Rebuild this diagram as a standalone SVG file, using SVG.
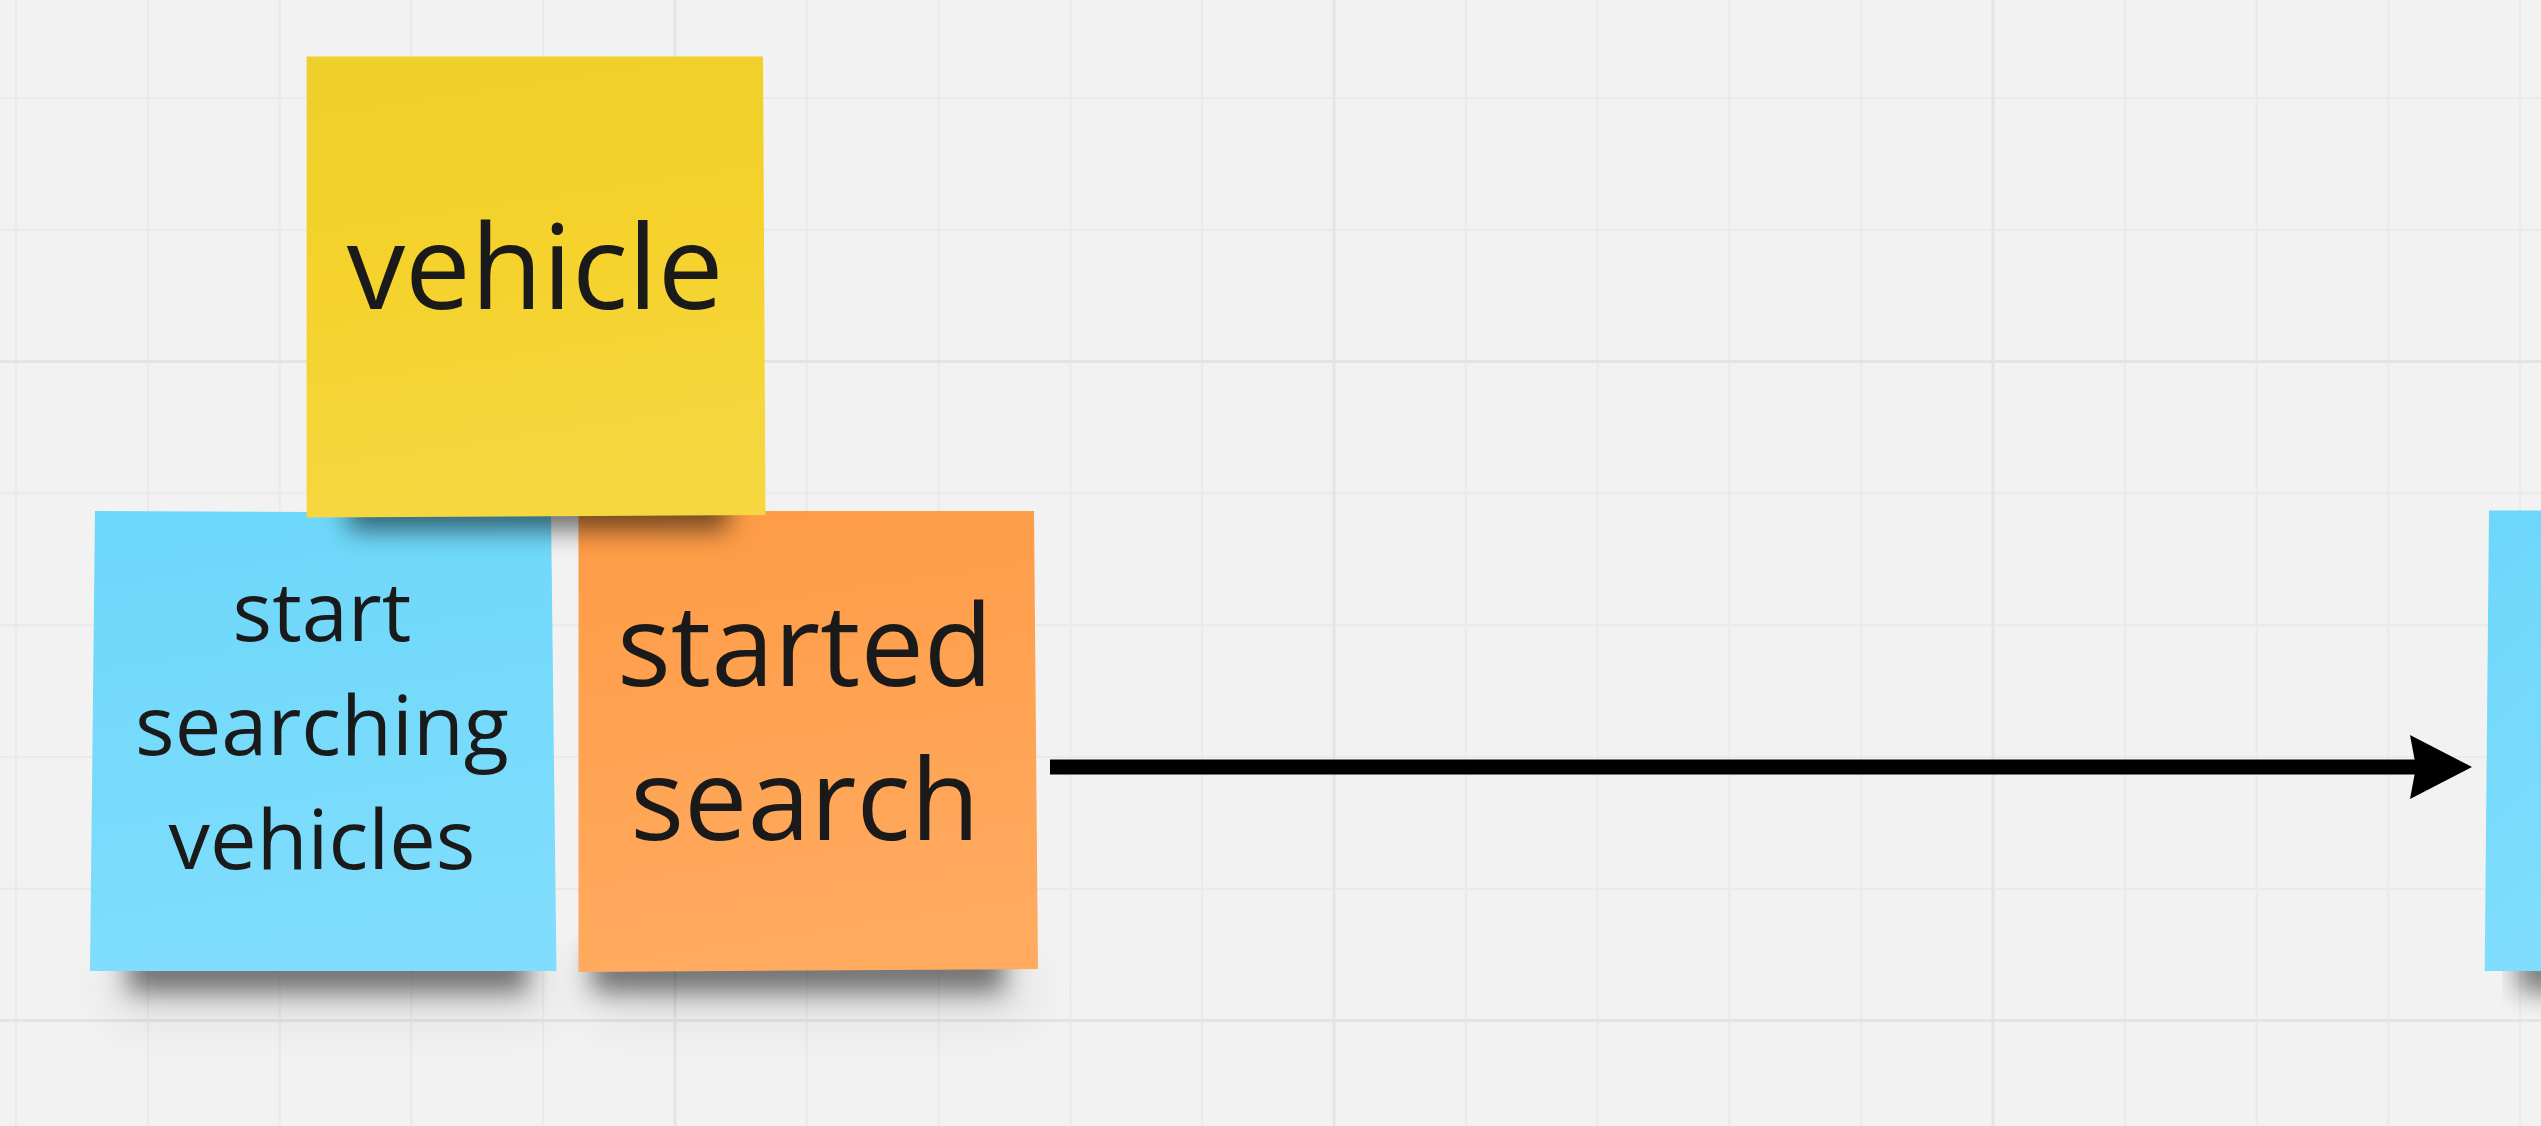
<svg xmlns="http://www.w3.org/2000/svg" width="2541" height="1126" viewBox="0 0 2541 1126">
<style>
.minor{stroke:#eaeaea;stroke-width:2.2}
.major{stroke:#e4e4e4;stroke-width:3}
.lbl{font-family:"Open Sans","Noto Sans","DejaVu Sans",sans-serif;fill:#1a1a1a;text-anchor:middle}
.shadow{fill:#000;filter:url(#blur)}
.conn{stroke:#000;stroke-width:15;fill:none}
</style>
<defs>
<filter id="blur" x="-20%" y="-100%" width="140%" height="300%"><feGaussianBlur stdDeviation="13"/></filter>
<filter id="blurWide" x="-30%" y="-200%" width="160%" height="500%"><feGaussianBlur stdDeviation="26"/></filter>
<linearGradient id="gBlue" x1="0" y1="0" x2="0.15" y2="1"><stop offset="0" stop-color="#6cd7f9"/><stop offset="1" stop-color="#80ddfd"/></linearGradient>
<linearGradient id="gOrange" x1="0" y1="0" x2="0.15" y2="1"><stop offset="0" stop-color="#fe9b45"/><stop offset="1" stop-color="#ffaa5f"/></linearGradient>
<linearGradient id="gYellow" x1="0" y1="0" x2="0.15" y2="1"><stop offset="0" stop-color="#efcf2a"/><stop offset="0.5" stop-color="#f5d22c"/><stop offset="1" stop-color="#f6d740"/></linearGradient>
<marker id="arrow" markerUnits="userSpaceOnUse" markerWidth="70" markerHeight="70" viewBox="0 0 70 70" refX="10" refY="35" orient="auto">
<path d="M0,3 L62,35 L0,67 L6,35 Z" fill="#000"/>
</marker>
</defs>
<rect x="0" y="0" width="2541" height="1126" fill="#f2f2f2"/>
<g id="grid">
<g class="minor">
<line x1="16" y1="0" x2="16" y2="1126"/><line x1="147.8" y1="0" x2="147.8" y2="1126"/><line x1="279.6" y1="0" x2="279.6" y2="1126"/><line x1="411.4" y1="0" x2="411.4" y2="1126"/><line x1="543.2" y1="0" x2="543.2" y2="1126"/>
<line x1="806.8" y1="0" x2="806.8" y2="1126"/><line x1="938.6" y1="0" x2="938.6" y2="1126"/><line x1="1070.4" y1="0" x2="1070.4" y2="1126"/><line x1="1202.2" y1="0" x2="1202.2" y2="1126"/>
<line x1="1465.8" y1="0" x2="1465.8" y2="1126"/><line x1="1597.6" y1="0" x2="1597.6" y2="1126"/><line x1="1729.4" y1="0" x2="1729.4" y2="1126"/><line x1="1861.2" y1="0" x2="1861.2" y2="1126"/>
<line x1="2124.8" y1="0" x2="2124.8" y2="1126"/><line x1="2256.6" y1="0" x2="2256.6" y2="1126"/><line x1="2388.4" y1="0" x2="2388.4" y2="1126"/><line x1="2520.2" y1="0" x2="2520.2" y2="1126"/>
<line x1="0" y1="98" x2="2541" y2="98"/><line x1="0" y1="229.8" x2="2541" y2="229.8"/><line x1="0" y1="493.4" x2="2541" y2="493.4"/><line x1="0" y1="625.2" x2="2541" y2="625.2"/><line x1="0" y1="757" x2="2541" y2="757"/><line x1="0" y1="888.8" x2="2541" y2="888.8"/>
</g>
<g class="major">
<line x1="675" y1="0" x2="675" y2="1126"/><line x1="1334" y1="0" x2="1334" y2="1126"/><line x1="1993" y1="0" x2="1993" y2="1126"/>
<line x1="0" y1="361.6" x2="2541" y2="361.6"/><line x1="0" y1="1020.6" x2="2541" y2="1020.6"/>
</g>
</g>
<g id="node-start-searching-vehicles">
<rect x="110" y="960" width="440" height="60" fill="#000" opacity="0.07" style="filter:url(#blurWide)"/>
<rect x="128" y="948" width="400" height="44" class="shadow" opacity="0.5"/>
<path d="M95,511 L551,513 L556.5,971 L90,971 Z" fill="url(#gBlue)"/>
<text class="lbl" font-size="83" x="322"><tspan x="322" y="640.5">start</tspan><tspan x="322" y="754.8">searching</tspan><tspan x="322" y="869">vehicles</tspan></text>
</g>
<g id="node-started-search">
<rect x="590" y="960" width="440" height="60" fill="#000" opacity="0.07" style="filter:url(#blurWide)"/>
<rect x="592" y="946" width="412" height="46" class="shadow" opacity="0.5"/>
<path d="M578.5,511 L1034,511 L1038,969 L578.5,972 Z" fill="url(#gOrange)"/>
<text class="lbl" font-size="113" x="805"><tspan x="805" y="686">started</tspan><tspan x="805" y="839.5">search</tspan></text>
</g>
<g id="node-vehicle">
<rect x="348" y="490" width="380" height="40" class="shadow" opacity="0.55"/>
<path d="M306.6,56.5 L763,56.5 L765.5,515 L306.6,517.5 Z" fill="url(#gYellow)"/>
<text class="lbl" font-size="117" x="535" y="309">vehicle</text>
</g>
<g id="node-right">
<rect x="2518" y="948" width="80" height="44" class="shadow" opacity="0.5"/>
<path d="M2489,510.5 L2560,510.5 L2560,971 L2484.7,971 Z" fill="url(#gBlue)"/>
</g>
<g id="connectors">
<line x1="1050" y1="767" x2="2420" y2="767" class="conn" marker-end="url(#arrow)"/>
</g>
</svg>
